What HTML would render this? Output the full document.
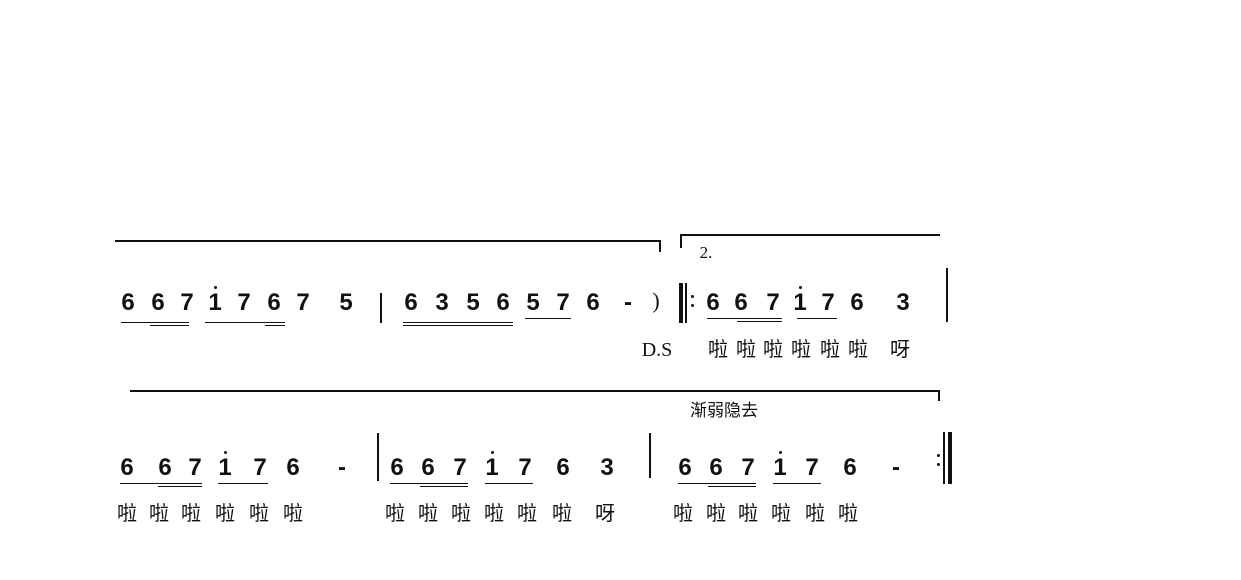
<!DOCTYPE html>
<html><head><meta charset="utf-8"><style>
body{margin:0;background:#fff;}
#c{position:relative;width:1241px;height:580px;overflow:hidden;background:#fff;}
.d{position:absolute;font:bold 24px/22px "Liberation Sans",sans-serif;color:#111;transform:translateX(-50%);}
.l{position:absolute;font:20px/20px "Liberation Serif","Noto Sans CJK SC",serif;color:#111;transform:translateX(-50%);}
.h{position:absolute;background:#111;}
.dot{position:absolute;width:3px;height:3px;border-radius:50%;background:#111;}
</style></head><body><div id="c">
<div class="h" style="left:115px;top:240px;width:546px;height:2px"></div>
<div class="h" style="left:659px;top:240px;width:2px;height:12px"></div>
<div class="h" style="left:680px;top:234px;width:260px;height:2px"></div>
<div class="h" style="left:680px;top:234px;width:2px;height:14px"></div>
<div class="l" style="left:706px;top:243px;font-size:17px">2.</div>

<div class="d" style="left:128px;top:292px">6</div>
<div class="d" style="left:158px;top:292px">6</div>
<div class="d" style="left:187px;top:292px">7</div>
<div class="d" style="left:215px;top:292px">1</div><div class="dot" style="left:214px;top:286px"></div>
<div class="d" style="left:244px;top:292px">7</div>
<div class="d" style="left:274px;top:292px">6</div>
<div class="d" style="left:303px;top:292px">7</div>
<div class="d" style="left:346px;top:292px">5</div>
<div class="h" style="left:380px;top:293px;width:2px;height:30px"></div>
<div class="d" style="left:411px;top:292px">6</div>
<div class="d" style="left:442px;top:292px">3</div>
<div class="d" style="left:473px;top:292px">5</div>
<div class="d" style="left:503px;top:292px">6</div>
<div class="d" style="left:533px;top:292px">5</div>
<div class="d" style="left:563px;top:292px">7</div>
<div class="d" style="left:593px;top:292px">6</div>
<div class="d" style="left:628px;top:292px">-</div>
<div class="l" style="left:656px;top:291px;font-size:22px">)</div>
<div class="h" style="left:121px;top:322px;width:68px;height:1px"></div>
<div class="h" style="left:150px;top:325px;width:39px;height:1px"></div>
<div class="h" style="left:205px;top:322px;width:80px;height:1px"></div>
<div class="h" style="left:265px;top:325px;width:20px;height:1px"></div>
<div class="h" style="left:403px;top:322px;width:110px;height:1px"></div>
<div class="h" style="left:403px;top:325px;width:110px;height:1px"></div>
<div class="h" style="left:525px;top:318px;width:46px;height:1px"></div>

<div class="h" style="left:679px;top:283px;width:4px;height:40px"></div>
<div class="h" style="left:685px;top:283px;width:2px;height:40px"></div>
<div class="dot" style="left:691px;top:295px"></div>
<div class="dot" style="left:691px;top:304px"></div>
<div class="d" style="left:713px;top:292px">6</div>
<div class="d" style="left:741px;top:292px">6</div>
<div class="d" style="left:773px;top:292px">7</div>
<div class="d" style="left:800px;top:292px">1</div><div class="dot" style="left:799px;top:286px"></div>
<div class="d" style="left:828px;top:292px">7</div>
<div class="d" style="left:857px;top:292px">6</div>
<div class="d" style="left:903px;top:292px">3</div>
<div class="h" style="left:946px;top:268px;width:2px;height:54px"></div>
<div class="h" style="left:707px;top:318px;width:75px;height:1px"></div>
<div class="h" style="left:737px;top:321px;width:45px;height:1px"></div>
<div class="h" style="left:797px;top:318px;width:40px;height:1px"></div>
<div class="l" style="left:657px;top:340px">D.S</div>
<div class="l" style="left:718px;top:340px">啦</div>
<div class="l" style="left:746px;top:340px">啦</div>
<div class="l" style="left:773px;top:340px">啦</div>
<div class="l" style="left:801px;top:340px">啦</div>
<div class="l" style="left:830px;top:340px">啦</div>
<div class="l" style="left:858px;top:340px">啦</div>
<div class="l" style="left:900px;top:340px">呀</div>

<div class="h" style="left:130px;top:390px;width:810px;height:2px"></div>
<div class="h" style="left:938px;top:390px;width:2px;height:11px"></div>
<div class="l" style="left:724px;top:401px;font-size:17px">渐弱隐去</div>

<div class="d" style="left:127px;top:457px">6</div>
<div class="d" style="left:165px;top:457px">6</div>
<div class="d" style="left:195px;top:457px">7</div>
<div class="d" style="left:225px;top:457px">1</div><div class="dot" style="left:224px;top:451px"></div>
<div class="d" style="left:260px;top:457px">7</div>
<div class="d" style="left:293px;top:457px">6</div>
<div class="d" style="left:342px;top:457px">-</div>
<div class="h" style="left:377px;top:433px;width:2px;height:48px"></div>
<div class="d" style="left:397px;top:457px">6</div>
<div class="d" style="left:428px;top:457px">6</div>
<div class="d" style="left:460px;top:457px">7</div>
<div class="d" style="left:492px;top:457px">1</div><div class="dot" style="left:491px;top:451px"></div>
<div class="d" style="left:525px;top:457px">7</div>
<div class="d" style="left:563px;top:457px">6</div>
<div class="d" style="left:607px;top:457px">3</div>
<div class="h" style="left:649px;top:433px;width:2px;height:45px"></div>
<div class="d" style="left:685px;top:457px">6</div>
<div class="d" style="left:716px;top:457px">6</div>
<div class="d" style="left:748px;top:457px">7</div>
<div class="d" style="left:780px;top:457px">1</div><div class="dot" style="left:779px;top:451px"></div>
<div class="d" style="left:812px;top:457px">7</div>
<div class="d" style="left:850px;top:457px">6</div>
<div class="d" style="left:896px;top:457px">-</div>
<div class="dot" style="left:937px;top:454px"></div>
<div class="dot" style="left:937px;top:463px"></div>
<div class="h" style="left:943px;top:432px;width:2px;height:52px"></div>
<div class="h" style="left:948px;top:432px;width:4px;height:52px"></div>
<div class="h" style="left:120px;top:483px;width:82px;height:1px"></div>
<div class="h" style="left:158px;top:486px;width:44px;height:1px"></div>
<div class="h" style="left:218px;top:483px;width:50px;height:1px"></div>
<div class="h" style="left:390px;top:483px;width:78px;height:1px"></div>
<div class="h" style="left:420px;top:486px;width:48px;height:1px"></div>
<div class="h" style="left:485px;top:483px;width:48px;height:1px"></div>
<div class="h" style="left:678px;top:483px;width:78px;height:1px"></div>
<div class="h" style="left:708px;top:486px;width:48px;height:1px"></div>
<div class="h" style="left:773px;top:483px;width:48px;height:1px"></div>
<div class="l" style="left:127px;top:504px">啦</div>
<div class="l" style="left:159px;top:504px">啦</div>
<div class="l" style="left:191px;top:504px">啦</div>
<div class="l" style="left:225px;top:504px">啦</div>
<div class="l" style="left:259px;top:504px">啦</div>
<div class="l" style="left:293px;top:504px">啦</div>
<div class="l" style="left:395px;top:504px">啦</div>
<div class="l" style="left:428px;top:504px">啦</div>
<div class="l" style="left:461px;top:504px">啦</div>
<div class="l" style="left:494px;top:504px">啦</div>
<div class="l" style="left:527px;top:504px">啦</div>
<div class="l" style="left:562px;top:504px">啦</div>
<div class="l" style="left:605px;top:504px">呀</div>
<div class="l" style="left:683px;top:504px">啦</div>
<div class="l" style="left:716px;top:504px">啦</div>
<div class="l" style="left:748px;top:504px">啦</div>
<div class="l" style="left:781px;top:504px">啦</div>
<div class="l" style="left:815px;top:504px">啦</div>
<div class="l" style="left:848px;top:504px">啦</div>
</div></body></html>
